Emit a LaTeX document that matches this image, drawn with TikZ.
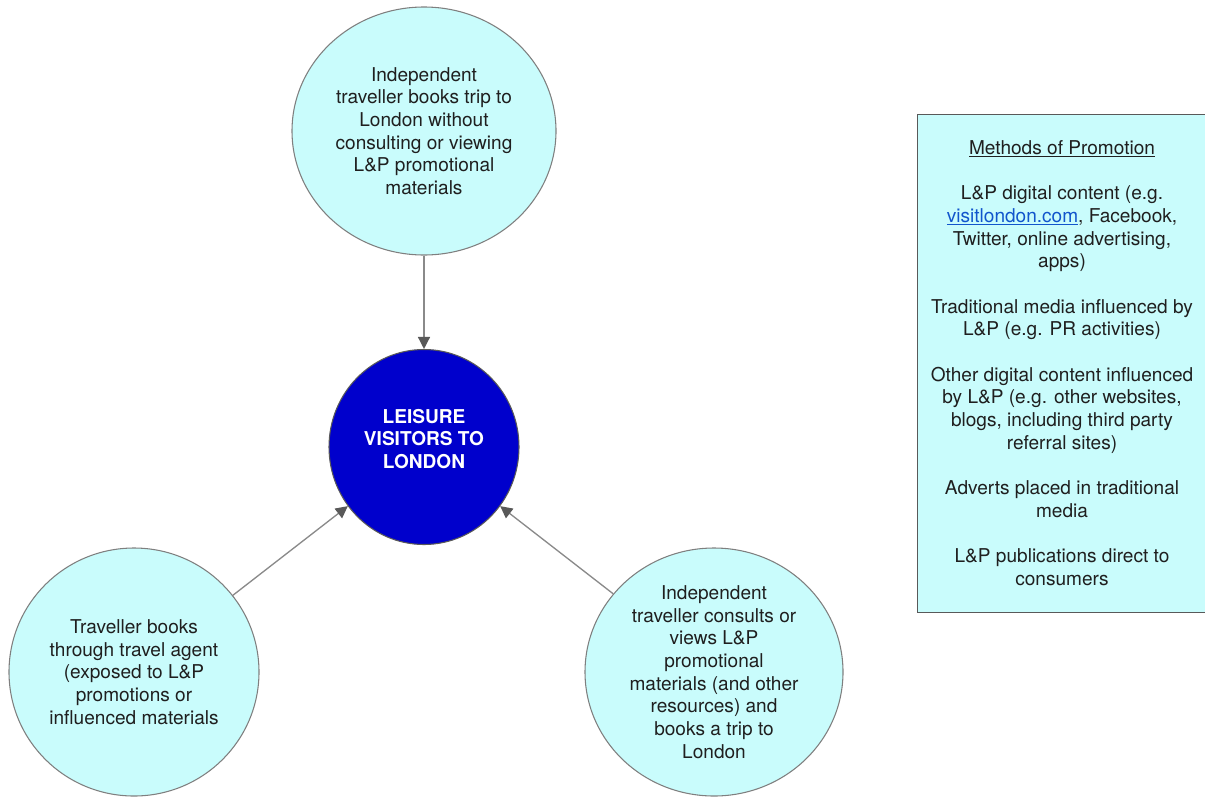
\documentclass[tikz,border=0pt]{standalone}
\usepackage{fontspec}
\setmainfont{TeX Gyre Heros}
\usetikzlibrary{shapes.geometric,arrows.meta}
\definecolor{lightcyan}{HTML}{C9FCFC}
\definecolor{darkblue}{HTML}{0000CC}
\definecolor{edgegray}{HTML}{7F7F7F}
\definecolor{linegray}{HTML}{8A8A8A}
\definecolor{headgray}{HTML}{595959}
\definecolor{linkblue}{HTML}{1155CC}
\tikzset{
  txt/.style={font=\fontsize{14.3}{17}\selectfont, text=black!88, align=center},
  bubble/.style={ellipse, draw=edgegray, line width=0.8pt, fill=lightcyan, inner sep=0pt, txt},
  hub/.style={ellipse, draw=headgray, line width=0.8pt, fill=darkblue, inner sep=0pt},
  hubtxt/.style={font=\fontsize{14.3}{17}\selectfont\bfseries, text=white, align=center},
  conn/.style={draw=linegray, line width=1pt, -{Triangle[length=9pt,width=9pt,fill=headgray,color=headgray]}},
  panel/.style={draw=headgray, line width=1pt, fill=lightcyan}
}
\begin{document}
\begin{tikzpicture}[x=0.75pt,y=-0.75pt]
\useasboundingbox (0,0) rectangle (1205,796);
\node[bubble, minimum width=264*0.75pt, minimum height=248*0.75pt] (top) at (424,131)
  {Independent\\traveller books trip to\\London without\\consulting or viewing\\L\&P promotional\\materials};
\node[hub, minimum width=190*0.75pt, minimum height=195*0.75pt] (hub) at (424,447) {};
\node[hubtxt] (hubtext) at (424,439) {LEISURE\\VISITORS TO\\LONDON};
\node[bubble, minimum width=250*0.75pt, minimum height=248*0.75pt] (left) at (134,672)
  {Traveller books\\through travel agent\\(exposed to L\&P\\promotions or\\influenced materials};
\node[bubble, minimum width=258*0.75pt, minimum height=248*0.75pt] (right) at (714,672)
  {Independent\\traveller consults or\\views L\&P\\promotional\\materials (and other\\resources) and\\books a trip to\\London};
\draw[conn] (top) -- (hub);
\draw[conn] (left) -- (hub);
\draw[conn] (right) -- (hub);
\node[panel, minimum width=292*0.75pt, minimum height=498*0.75pt, anchor=north west, inner sep=0pt] (box) at (917,114) {};
\node[txt] (boxtext) at (1062,363)
  {\underline{Methods of Promotion}\\[17pt]
   L\&P digital content (e.g.\\
   {\color{linkblue}\underline{visitlondon.com}}, Facebook,\\
   Twitter, online advertising,\\apps)\\[17pt]
   Traditional media influenced by\\L\&P (e.g. PR activities)\\[17pt]
   Other digital content influenced\\by L\&P (e.g. other websites,\\blogs, including third party\\referral sites)\\[17pt]
   Adverts placed in traditional\\media\\[17pt]
   L\&P publications direct to\\consumers};
\end{tikzpicture}
\end{document}
